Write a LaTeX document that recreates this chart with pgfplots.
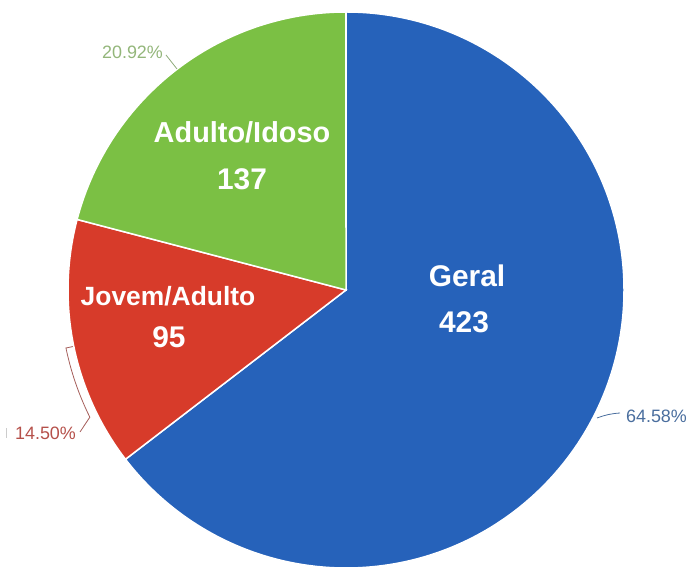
\documentclass[border=0pt]{standalone}
\usepackage{pgfplots}
\pgfplotsset{compat=1.18}
\usepackage{pgfplotstable}
\usepackage{fontspec}
\setmainfont{Liberation Sans}
\usetikzlibrary{calc}

\definecolor{cGeral}{HTML}{2662BA}
\definecolor{cJovem}{HTML}{D73B2A}
\definecolor{cAdulto}{HTML}{7BC044}
\definecolor{tGeral}{HTML}{4A6E9E}
\definecolor{tJovem}{HTML}{B5504A}
\definecolor{tAdulto}{HTML}{93B67A}

\pgfplotstableread{
label value
Geral 423
Jovem/Adulto 95
Adulto/Idoso 137
}\piedata

\pgfplotstablegetelem{0}{value}\of\piedata \let\vA\pgfplotsretval
\pgfplotstablegetelem{1}{value}\of\piedata \let\vB\pgfplotsretval
\pgfplotstablegetelem{2}{value}\of\piedata \let\vC\pgfplotsretval
\pgfmathsetmacro\total{\vA+\vB+\vC}
\pgfmathsetmacro\fA{\vA/\total}
\pgfmathsetmacro\fB{\vB/\total}
\pgfmathsetmacro\fC{\vC/\total}
\pgfmathsetmacro\angA{90-360*\fA}
\pgfmathsetmacro\angB{\angA-360*\fB}
\pgfmathsetmacro\angC{\angB-360*\fC}
\pgfmathsetmacro\pA{100*\fA}
\pgfmathsetmacro\pB{100*\fB}
\pgfmathsetmacro\pC{100*\fC}
\newcommand\pct[1]{\pgfmathprintnumber[fixed,fixed zerofill,precision=2,assume math mode=true]{#1}\%}

\begin{document}
\begin{tikzpicture}
\path[use as bounding box] (0,0) rectangle (691bp,567bp);
\begin{axis}[
  at={(0,0)}, anchor=south west,
  width=691bp, height=567bp, scale only axis,
  xmin=0, xmax=691, ymin=0, ymax=567,
  hide axis, clip=false,
]
% sectors (centre at image px (346,290) -> axis (346,277), radius 278)
\filldraw[fill=cGeral, draw=white, line width=1.5bp]
  (axis cs:346,277) -- ++(90:278bp) arc[start angle=90, end angle=\angA, radius=278bp] -- cycle;
\filldraw[fill=cJovem, draw=white, line width=1.5bp]
  (axis cs:346,277) -- ++(\angA:278bp) arc[start angle=\angA, end angle=\angB, radius=278bp] -- cycle;
\filldraw[fill=cAdulto, draw=white, line width=1.5bp]
  (axis cs:346,277) -- ++(\angB:278bp) arc[start angle=\angB, end angle=\angC, radius=278bp] -- cycle;

% inside labels
\node[anchor=base, text=white, font=\bfseries\fontsize{30}{30}\selectfont] at (axis cs:467,280) {Geral};
\node[anchor=base, text=white, font=\bfseries\fontsize{30}{30}\selectfont] at (axis cs:464,234) {\vA};
\node[anchor=base, text=white, font=\bfseries\fontsize{29}{29}\selectfont] at (axis cs:242,424) {Adulto/Idoso};
\node[anchor=base, text=white, font=\bfseries\fontsize{30}{30}\selectfont] at (axis cs:242,377) {\vC};
\node[anchor=base, text=white, font=\bfseries\fontsize{26.5}{26.5}\selectfont] at (axis cs:168,261) {Jovem/Adulto};
\node[anchor=base, text=white, font=\bfseries\fontsize{30}{30}\selectfont] at (axis cs:169,219) {\vB};

% percentage labels
\node[anchor=base, text=tAdulto, font=\fontsize{18}{18}\selectfont] at (axis cs:132.5,508) {\pct{\pC}};
\node[anchor=base, text=tJovem, font=\fontsize{18}{18}\selectfont] at (axis cs:45.5,127) {\pct{\pB}};
\node[anchor=base, text=tGeral, font=\fontsize{18}{18}\selectfont] at (axis cs:656.5,144) {\pct{\pA}};

% leader lines
\draw[tAdulto!80!gray, line width=0.8bp] (axis cs:166,512) -- (axis cs:177,498);
\draw[tGeral, line width=0.8bp] (axis cs:597,149) to[bend left=8] (axis cs:620,154);
\draw[tJovem!70!gray, line width=0.8bp]
  (axis cs:80,135) -- ($(axis cs:346,277)+(206.4:286bp)$)
  arc[start angle=206.4, end angle=191.7, radius=286bp] -- ++(11.7:7bp);
\draw[gray!40, line width=0.8bp] (axis cs:6,129) -- (axis cs:6,139);
\end{axis}
\end{tikzpicture}
\end{document}
